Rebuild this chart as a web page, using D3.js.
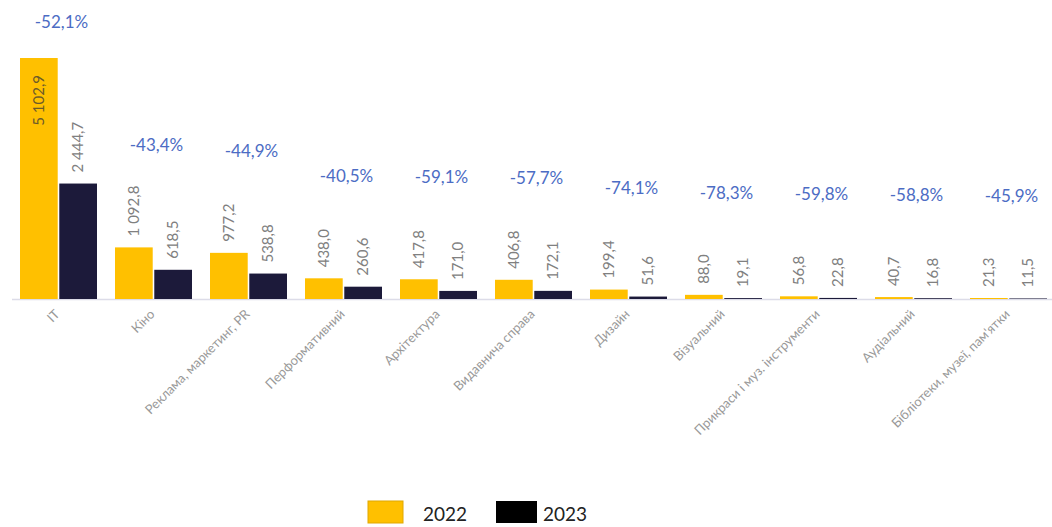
<!DOCTYPE html>
<html>
<head>
<meta charset="utf-8">
<script src="https://cdn.jsdelivr.net/npm/d3@7"></script>
<style>
  body { margin: 0; background: #fff; }
  text { font-family: Lato, "Open Sans", sans-serif; }
</style>
</head>
<body>
<div id="chart"></div>
<script>
// categories and values (тис.)
const categories = ["ІТ", "Кіно", "Реклама, маркетинг, PR", "Перформативний", "Архітектура",
  "Видавнича справа", "Дизайн", "Візуальний", "Прикраси і муз. інструменти", "Аудіальний",
  "Бібліотеки, музеї, пам'ятки"];
const values2022 = [5102.9, 1092.8, 977.2, 438.0, 417.8, 406.8, 199.4, 88.0, 56.8, 40.7, 21.3];
const values2023 = [2444.7, 618.5, 538.8, 260.6, 171.0, 172.1, 51.6, 19.1, 22.8, 16.8, 11.5];
const changes = ["-52,1%", "-43,4%", "-44,9%", "-40,5%", "-59,1%", "-57,7%", "-74,1%",
  "-78,3%", "-59,8%", "-58,8%", "-45,9%"];
const years = ["2022", "2023"];

const width = 1052, height = 527;
const baseY = 299;

const svg = d3.select("#chart")
  .append("svg")
    .attr("width", width)
    .attr("height", height);

const locale = d3.formatLocale({decimal: ",", thousands: "\u00a0", grouping: [3]});
const fmt = locale.format(",.1f");

// scales
const x0 = d3.scaleBand()
  .domain(categories)
  .range([20, 20 + 95 * 11 - 18])
  .paddingInner(18 / 95)
  .paddingOuter(0);

const x1 = d3.scaleBand()
  .domain(years)
  .range([0, x0.bandwidth()])
  .paddingInner(0.04);

const y = d3.scaleLinear()
  .domain([0, 5102.9])
  .range([baseY, 58]);

const color = d3.scaleOrdinal().domain(years).range(["#FFC000", "#1C1A3A"]);

const rows = categories.map((c, i) => ({
  cat: c, change: changes[i],
  vals: [{year: "2022", v: values2022[i]}, {year: "2023", v: values2023[i]}]
}));

// axis line
svg.append("line")
  .attr("x1", 12).attr("x2", width)
  .attr("y1", baseY + 0.5).attr("y2", baseY + 0.5)
  .attr("stroke", "#dcdce8").attr("stroke-width", 1.5);

const groups = svg.append("g")
  .selectAll("g")
  .data(rows)
  .join("g")
    .attr("transform", d => `translate(${x0(d.cat)},0)`);

groups.selectAll("rect")
  .data(d => d.vals)
  .join("rect")
    .attr("x", d => x1(d.year))
    .attr("y", d => y(d.v))
    .attr("width", x1.bandwidth())
    .attr("height", d => baseY - y(d.v))
    .attr("fill", d => color(d.year));

// value labels, rotated (the tallest one sits inside its bar)
const isInside = d => y(d.v) < 120;
groups.selectAll("text.val")
  .data(d => d.vals)
  .join("text")
    .attr("class", "val")
    .attr("transform", d => {
      const cx = x1(d.year) + x1.bandwidth() / 2;
      const ty = isInside(d) ? y(d.v) + 17 : y(d.v) - 11;
      return `translate(${cx + 5},${ty}) rotate(-90)`;
    })
    .attr("text-anchor", d => isInside(d) ? "end" : "start")
    .attr("font-size", 15)
    .attr("fill", d => isInside(d) ? "#6b5a2a" : "#808080")
    .text(d => fmt(d.v));

// percent change labels
groups.append("text")
  .attr("x", x0.bandwidth() / 2 + 3)
  .attr("y", d => Math.max(22, Math.min(210, y(d.vals[0].v) - 102)) + 6)
  .attr("text-anchor", "middle")
  .attr("font-size", 17)
  .attr("fill", "#4c6cc4")
  .text(d => d.change);

// category labels
groups.append("text")
  .attr("transform", `translate(${x0.bandwidth() / 2 + 2},${baseY + 16}) rotate(-45)`)
  .attr("text-anchor", "end")
  .attr("font-size", 13)
  .attr("fill", "#999")
  .text(d => d.cat);

// legend
const legend = svg.append("g");
const legendX = [368, 496];
legend.selectAll("rect")
  .data(years)
  .join("rect")
    .attr("x", (d, i) => legendX[i])
    .attr("y", 501)
    .attr("width", (d, i) => i === 0 ? 35 : 41)
    .attr("height", 22)
    .attr("fill", (d, i) => i === 0 ? "#FFC000" : "#000")
    .attr("stroke", (d, i) => i === 0 ? "#e0a800" : "none");
legend.selectAll("text")
  .data(years)
  .join("text")
    .attr("x", (d, i) => i === 0 ? 423 : 543)
    .attr("y", 521)
    .attr("font-size", 19)
    .attr("fill", "#222")
    .text(d => d);
</script>
</body>
</html>
